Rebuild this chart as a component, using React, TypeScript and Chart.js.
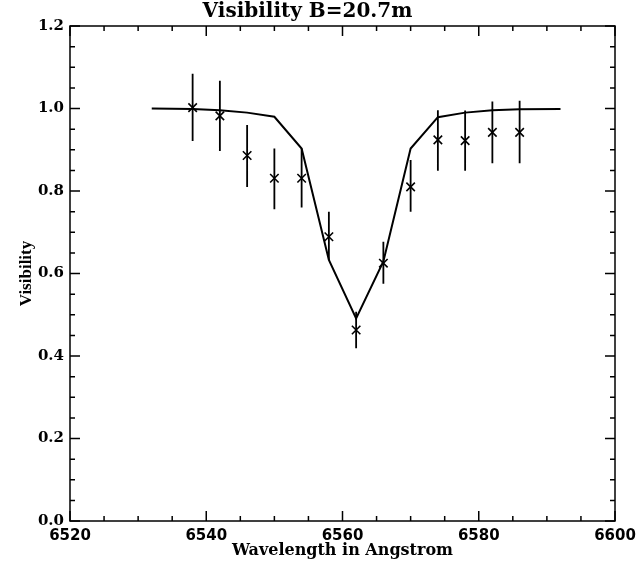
import React, { useEffect, useRef } from "react";
import { Chart, registerables } from "chart.js";

Chart.register(...registerables);

const titleText = "Visibility B=20.7m";
const xTitleText = "Wavelength in Angstrom";
const yTitleText = "Visibility";

const xMin = 6520;
const xMax = 6600;
const xMajorStep = 20;
const xMinorPerMajor = 4;
const yMin = 0;
const yMax = 1.2;
const yMajorStep = 0.2;
const yMinorPerMajor = 4;

// observed visibilities
const obsWavelength = [6538, 6542, 6546, 6550, 6554, 6558, 6562, 6566, 6570, 6574, 6578, 6582, 6586];
const obsVisibility = [1.002, 0.982, 0.886, 0.831, 0.831, 0.689, 0.463, 0.625, 0.81, 0.924, 0.922, 0.942, 0.942];
const obsLow = [0.921, 0.897, 0.81, 0.756, 0.76, 0.633, 0.419, 0.575, 0.75, 0.849, 0.849, 0.867, 0.867];
const obsHigh = [1.084, 1.067, 0.96, 0.903, 0.903, 0.75, 0.507, 0.677, 0.875, 0.996, 0.995, 1.017, 1.019];

// model curve
const modelWavelength = [6532, 6538, 6542, 6546, 6550, 6554, 6558, 6562, 6566, 6570, 6574, 6578, 6582, 6586, 6592];
const modelVisibility = [1.0, 0.999, 0.996, 0.99, 0.98, 0.903, 0.633, 0.491, 0.629, 0.903, 0.979, 0.99, 0.996, 0.998, 0.999];

const framePlugin = {
  id: "idlFrame",
  afterDraw(chart: any) {
    const { ctx, chartArea: a, scales } = chart;
    const xs = scales.x;
    const ys = scales.y;
    ctx.save();
    ctx.strokeStyle = "#000";
    ctx.lineWidth = 1.5;
    ctx.strokeRect(a.left, a.top, a.right - a.left, a.bottom - a.top);
    ctx.beginPath();
    const nx = Math.round((xMax - xMin) / xMajorStep) * xMinorPerMajor;
    for (let i = 0; i <= nx; i++) {
      const v = xMin + (i * xMajorStep) / xMinorPerMajor;
      const px = xs.getPixelForValue(v);
      const len = i % xMinorPerMajor === 0 ? 10 : 5;
      ctx.moveTo(px, a.bottom);
      ctx.lineTo(px, a.bottom - len);
      ctx.moveTo(px, a.top);
      ctx.lineTo(px, a.top + len);
    }
    const ny = Math.round((yMax - yMin) / yMajorStep) * yMinorPerMajor;
    for (let i = 0; i <= ny; i++) {
      const v = yMin + (i * yMajorStep) / yMinorPerMajor;
      const py = ys.getPixelForValue(v);
      const len = i % yMinorPerMajor === 0 ? 10 : 5;
      ctx.moveTo(a.left, py);
      ctx.lineTo(a.left + len, py);
      ctx.moveTo(a.right, py);
      ctx.lineTo(a.right - len, py);
    }
    ctx.stroke();
    ctx.restore();
  },
};

export default function App() {
  const canvasRef = useRef<HTMLCanvasElement | null>(null);

  useEffect(() => {
    document.body.style.margin = "0";
    const canvas = canvasRef.current;
    if (!canvas) return;

    const modelData = modelWavelength.map((x, i) => ({ x, y: modelVisibility[i] }));
    const errData: any[] = [];
    obsWavelength.forEach((x, i) => {
      errData.push({ x, y: obsLow[i] });
      errData.push({ x, y: obsHigh[i] });
      errData.push({ x, y: null });
    });
    const obsData = obsWavelength.map((x, i) => ({ x, y: obsVisibility[i] }));

    const chart = new Chart(canvas, {
      type: "line",
      data: {
        datasets: [
          {
            label: "model",
            data: modelData,
            borderColor: "#000",
            borderWidth: 2,
            pointRadius: 0,
            tension: 0,
            fill: false,
          },
          {
            label: "errors",
            data: errData,
            borderColor: "#000",
            borderWidth: 1.8,
            pointRadius: 0,
            spanGaps: false,
            fill: false,
          },
          {
            label: "observed",
            data: obsData,
            showLine: false,
            borderColor: "#000",
            backgroundColor: "#000",
            pointStyle: "crossRot",
            pointRadius: 6,
            pointBorderWidth: 1.6,
            borderWidth: 1.6,
          },
        ],
      },
      options: {
        animation: false,
        responsive: true,
        maintainAspectRatio: false,
        layout: { padding: { left: 0, right: 21, top: 0, bottom: 0 } },
        plugins: {
          legend: { display: false },
          tooltip: { enabled: false },
          title: {
            display: true,
            text: titleText,
            color: "#000",
            font: { family: "DejaVu Serif", size: 20, weight: "bold", lineHeight: 1.2 },
            padding: { top: 0, bottom: 2 },
          },
        },
        scales: {
          x: {
            type: "linear",
            position: "bottom",
            min: xMin,
            max: xMax,
            grid: { display: false, drawTicks: false },
            border: { display: false },
            ticks: {
              stepSize: xMajorStep,
              color: "#000",
              padding: 6,
              maxRotation: 0,
              font: { family: "DejaVu Sans", size: 15, weight: "bold" },
              callback: (v: any) => String(v),
            },
            title: {
              display: true,
              text: xTitleText,
              color: "#000",
              font: { family: "DejaVu Serif", size: 16, weight: "bold", lineHeight: 1.2 },
              padding: { top: 0, bottom: 4 },
            },
            afterFit: (s: any) => {
              s.height = 43;
              s.paddingLeft = 0;
              s.paddingRight = 0;
            },
          },
          y: {
            type: "linear",
            min: yMin,
            max: yMax,
            grid: { display: false, drawTicks: false },
            border: { display: false },
            ticks: {
              stepSize: yMajorStep,
              color: "#000",
              padding: 6,
              font: { family: "DejaVu Serif", size: 15, weight: "bold" },
              callback: (v: any) => Number(v).toFixed(1),
            },
            title: {
              display: true,
              text: yTitleText,
              color: "#000",
              font: { family: "Liberation Serif", size: 17, weight: "bold", lineHeight: 1.2 },
              padding: { top: 16, bottom: 0 },
            },
            afterFit: (s: any) => {
              s.width = 70;
              s.paddingTop = 0;
              s.paddingBottom = 0;
            },
          },
        },
      },
      plugins: [framePlugin],
    });

    return () => chart.destroy();
  }, []);

  return (
    <div style={{ position: "relative", width: 636, height: 564, background: "#fff" }}>
      <canvas ref={canvasRef} />
    </div>
  );
}
